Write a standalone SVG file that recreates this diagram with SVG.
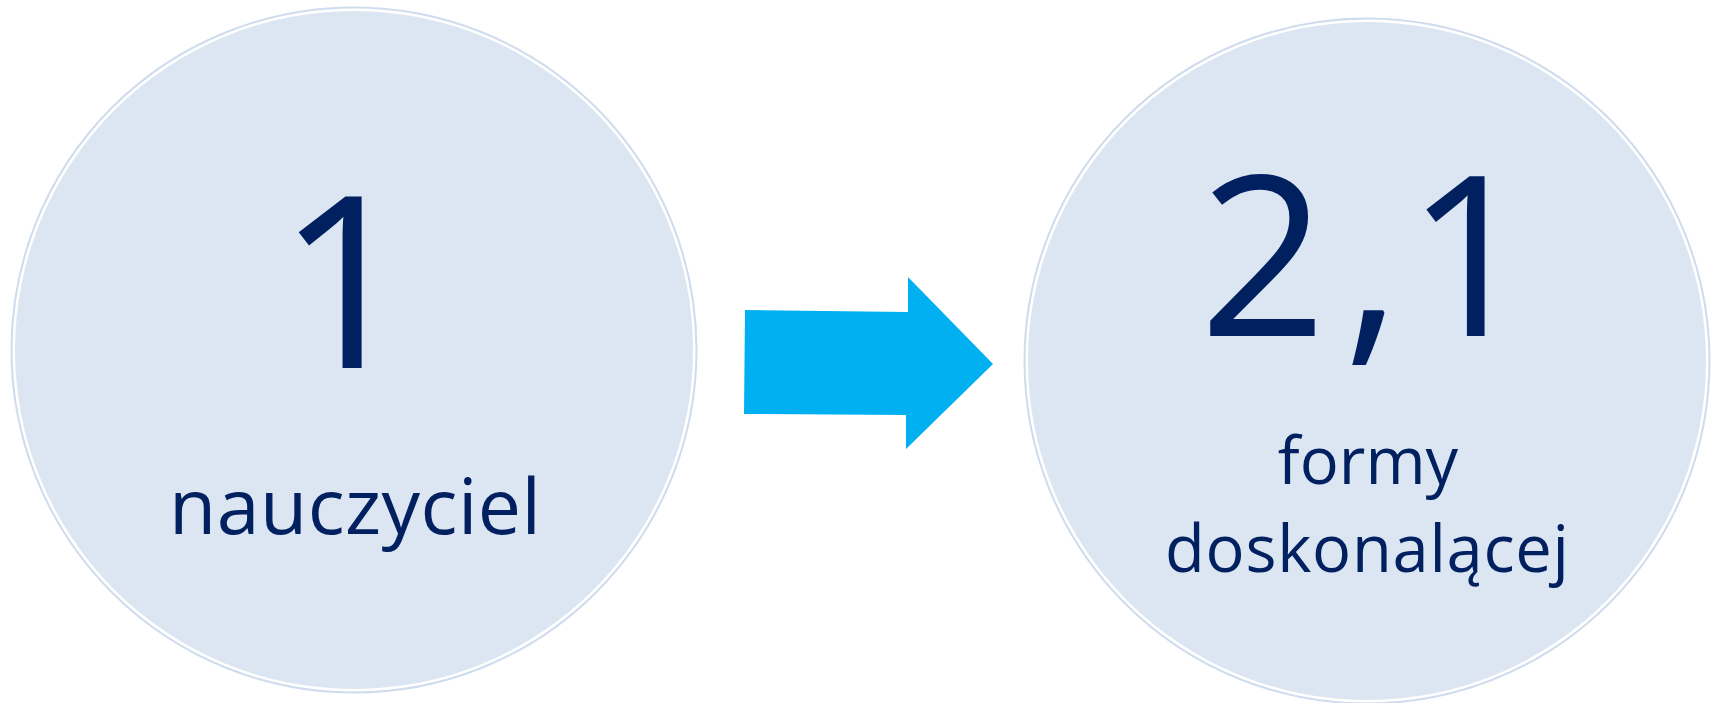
<svg xmlns="http://www.w3.org/2000/svg" width="1717" height="703" viewBox="0 0 1717 703">
<style>
.ring{fill:none;stroke:#cfdcee;stroke-width:2}
.disc{fill:#dce6f2}
.t{fill:#002060;font-family:"Open Sans","Noto Sans",sans-serif;text-anchor:middle}
.arrow{fill:#00b0f0}
</style>
<rect width="1717" height="703" fill="#ffffff"/>
<g id="node-left">
<circle class="ring" cx="354" cy="350" r="342.5"/>
<circle class="disc" cx="354" cy="350" r="339"/>
<text class="t" x="346" y="368" font-size="241">1</text>
<text class="t" x="355" y="534" font-size="77" textLength="372" lengthAdjust="spacing">nauczyciel</text>
</g>
<g id="node-right">
<circle class="ring" cx="1367" cy="361" r="342.5"/>
<circle class="disc" cx="1367" cy="361" r="339"/>
<text class="t" y="336" font-size="223"><tspan x="1263">2</tspan><tspan x="1372">,</tspan><tspan x="1470">1</tspan></text>
<text class="t" x="1368" y="484" font-size="65">formy</text>
<text class="t" x="1367" y="572" font-size="65" textLength="404" lengthAdjust="spacing">doskonalącej</text>
</g>
<g id="connectors">
<polygon class="arrow" points="745,310 908,312 908,277 993,364 906,449 906,415 744,414"/>
</g>
</svg>
